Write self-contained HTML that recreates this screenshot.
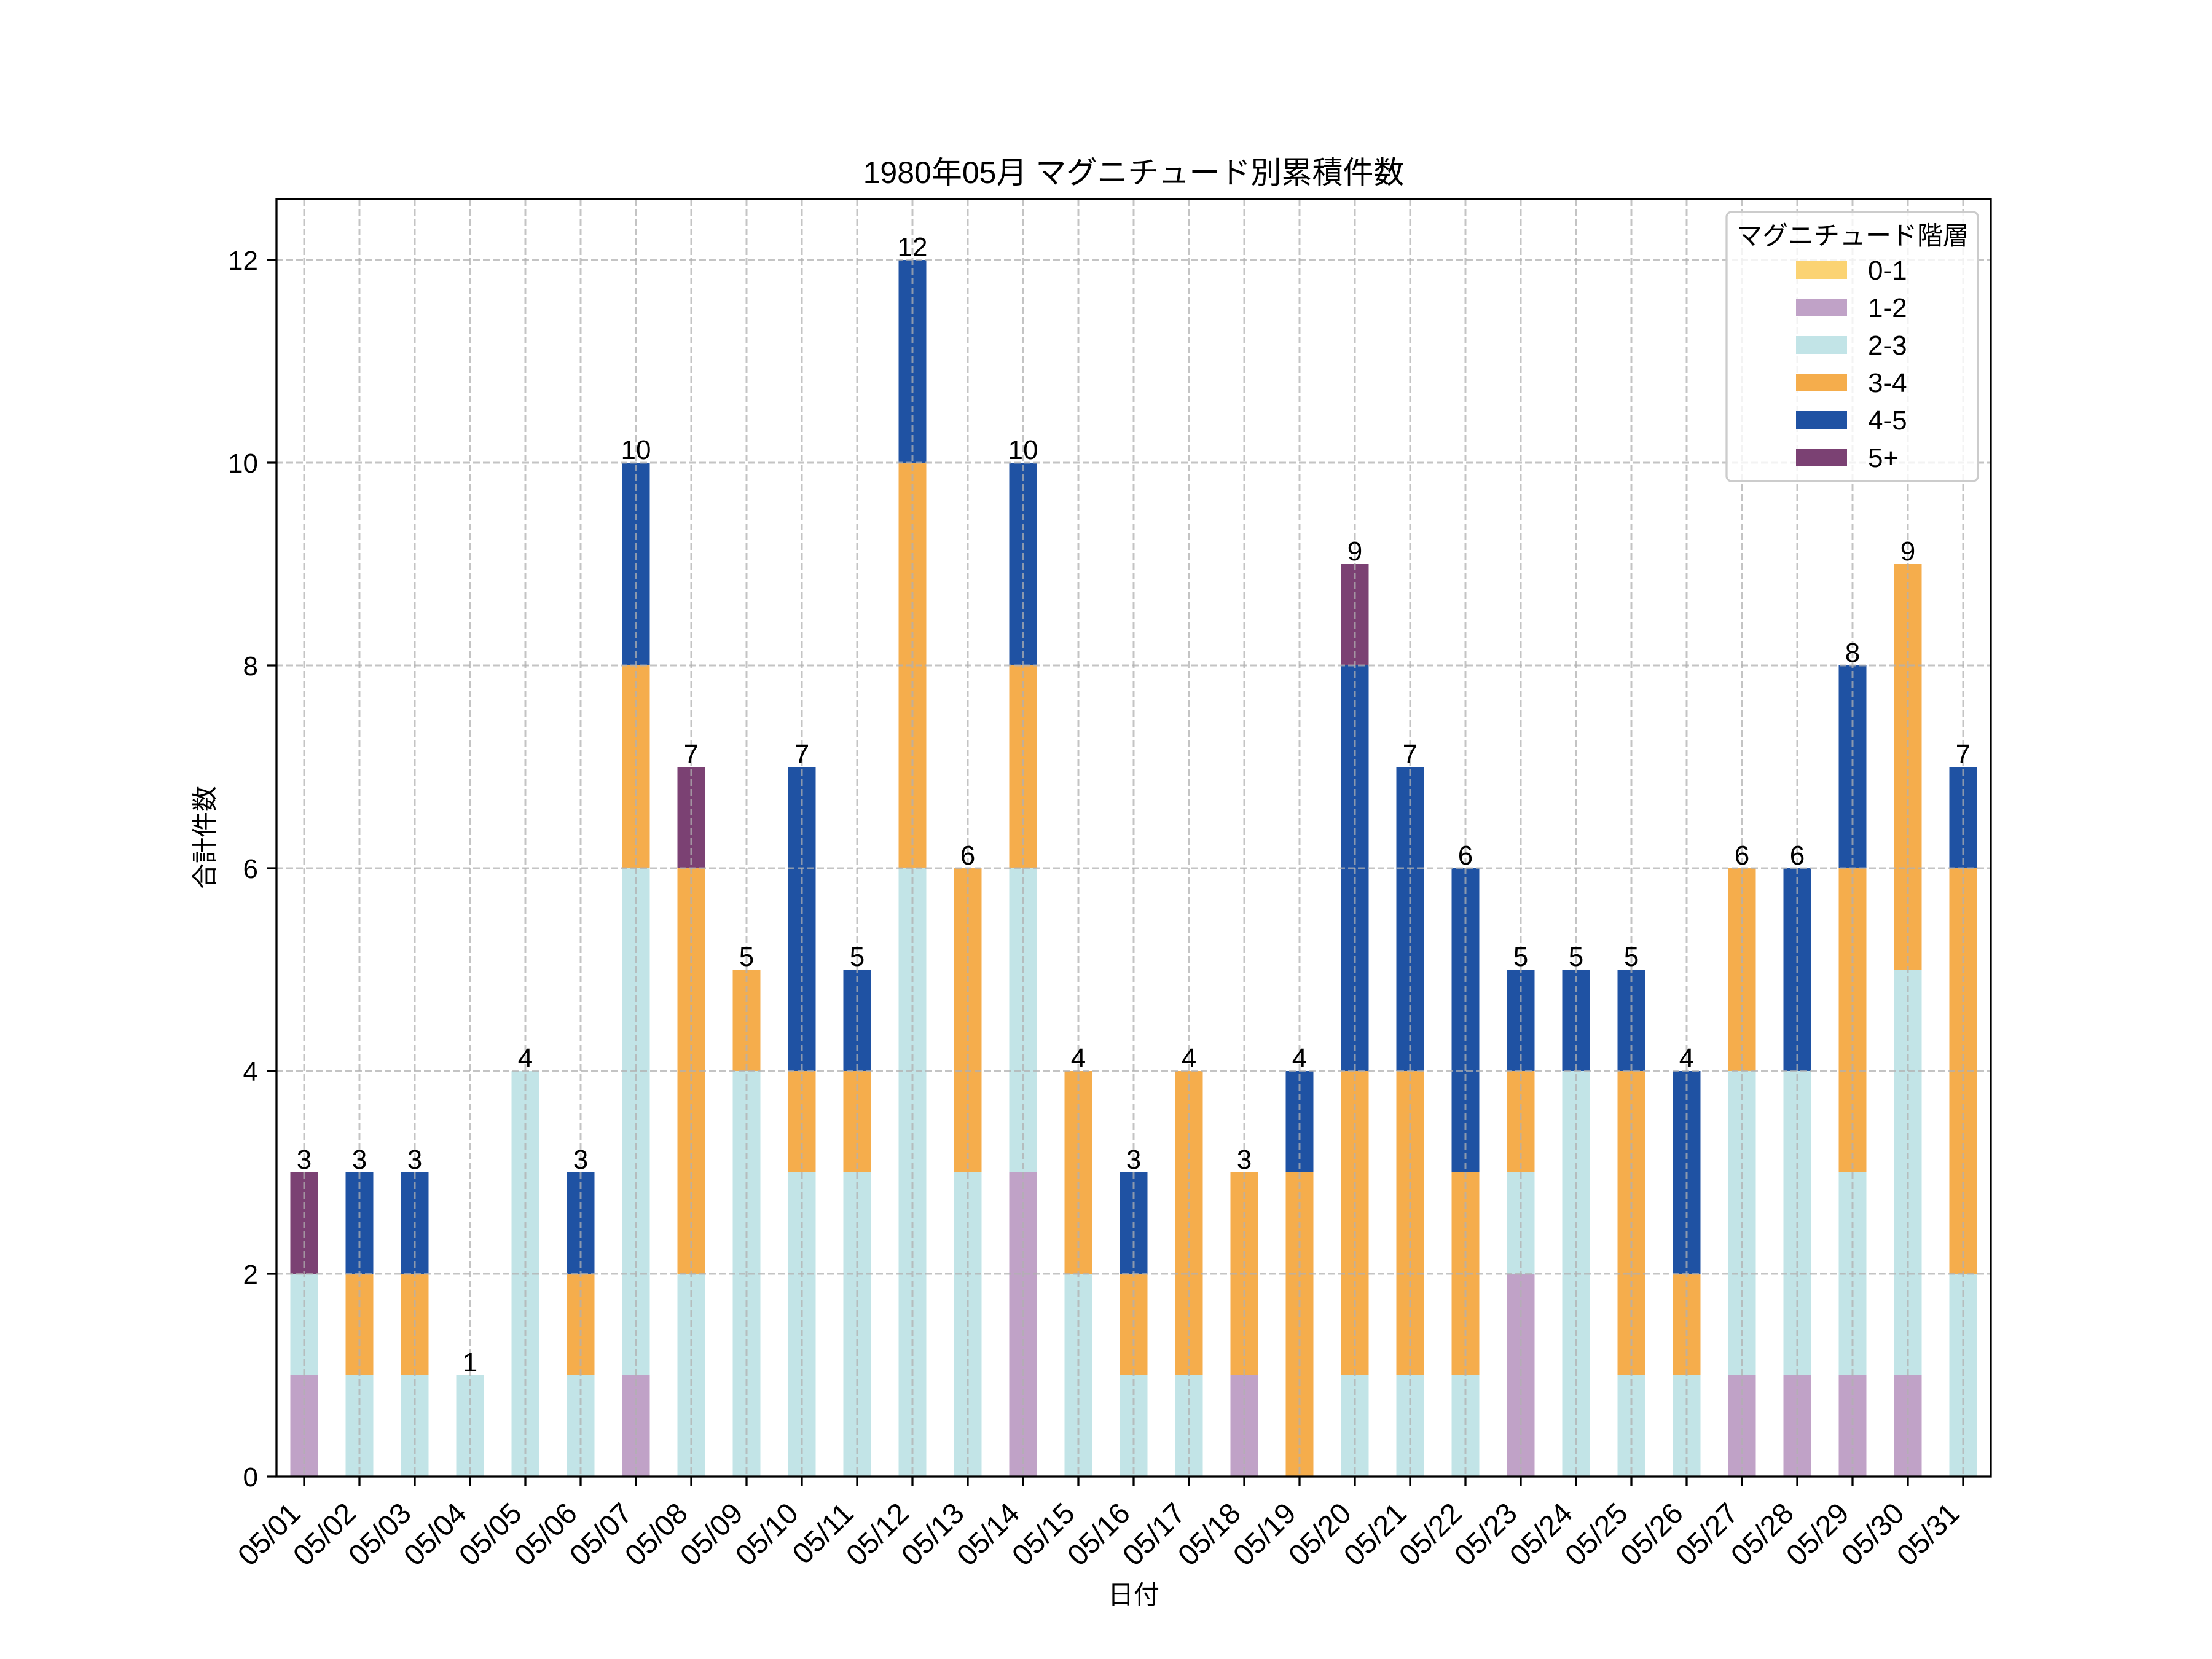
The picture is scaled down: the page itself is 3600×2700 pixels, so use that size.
<!DOCTYPE html>
<html><head><meta charset="utf-8"><style>body{margin:0;background:#fff}svg{display:block}</style></head><body>
<svg xmlns="http://www.w3.org/2000/svg" width="3600" height="2700" viewBox="0 0 3600 2700" font-family="Liberation Sans, Noto Sans CJK JP, sans-serif">
<rect width="3600" height="2700" fill="#fff"/>
<g>
<rect x="472.5" y="2238" width="45" height="165" fill="#C0A2C7"/><rect x="472.5" y="2073" width="45" height="165" fill="#C2E4E7"/><rect x="472.5" y="1908" width="45" height="165" fill="#7B4173"/>
<rect x="562.5" y="2238" width="45" height="165" fill="#C2E4E7"/><rect x="562.5" y="2073" width="45" height="165" fill="#F5AD4C"/><rect x="562.5" y="1908" width="45" height="165" fill="#1F52A3"/>
<rect x="652.5" y="2238" width="45" height="165" fill="#C2E4E7"/><rect x="652.5" y="2073" width="45" height="165" fill="#F5AD4C"/><rect x="652.5" y="1908" width="45" height="165" fill="#1F52A3"/>
<rect x="742.5" y="2238" width="45" height="165" fill="#C2E4E7"/>
<rect x="832.5" y="1743" width="45" height="660" fill="#C2E4E7"/>
<rect x="922.5" y="2238" width="45" height="165" fill="#C2E4E7"/><rect x="922.5" y="2073" width="45" height="165" fill="#F5AD4C"/><rect x="922.5" y="1908" width="45" height="165" fill="#1F52A3"/>
<rect x="1012.5" y="2238" width="45" height="165" fill="#C0A2C7"/><rect x="1012.5" y="1413" width="45" height="825" fill="#C2E4E7"/><rect x="1012.5" y="1083" width="45" height="330" fill="#F5AD4C"/><rect x="1012.5" y="753" width="45" height="330" fill="#1F52A3"/>
<rect x="1102.5" y="2073" width="45" height="330" fill="#C2E4E7"/><rect x="1102.5" y="1413" width="45" height="660" fill="#F5AD4C"/><rect x="1102.5" y="1248" width="45" height="165" fill="#7B4173"/>
<rect x="1192.5" y="1743" width="45" height="660" fill="#C2E4E7"/><rect x="1192.5" y="1578" width="45" height="165" fill="#F5AD4C"/>
<rect x="1282.5" y="1908" width="45" height="495" fill="#C2E4E7"/><rect x="1282.5" y="1743" width="45" height="165" fill="#F5AD4C"/><rect x="1282.5" y="1248" width="45" height="495" fill="#1F52A3"/>
<rect x="1372.5" y="1908" width="45" height="495" fill="#C2E4E7"/><rect x="1372.5" y="1743" width="45" height="165" fill="#F5AD4C"/><rect x="1372.5" y="1578" width="45" height="165" fill="#1F52A3"/>
<rect x="1462.5" y="1413" width="45" height="990" fill="#C2E4E7"/><rect x="1462.5" y="753" width="45" height="660" fill="#F5AD4C"/><rect x="1462.5" y="423" width="45" height="330" fill="#1F52A3"/>
<rect x="1552.5" y="1908" width="45" height="495" fill="#C2E4E7"/><rect x="1552.5" y="1413" width="45" height="495" fill="#F5AD4C"/>
<rect x="1642.5" y="1908" width="45" height="495" fill="#C0A2C7"/><rect x="1642.5" y="1413" width="45" height="495" fill="#C2E4E7"/><rect x="1642.5" y="1083" width="45" height="330" fill="#F5AD4C"/><rect x="1642.5" y="753" width="45" height="330" fill="#1F52A3"/>
<rect x="1732.5" y="2073" width="45" height="330" fill="#C2E4E7"/><rect x="1732.5" y="1743" width="45" height="330" fill="#F5AD4C"/>
<rect x="1822.5" y="2238" width="45" height="165" fill="#C2E4E7"/><rect x="1822.5" y="2073" width="45" height="165" fill="#F5AD4C"/><rect x="1822.5" y="1908" width="45" height="165" fill="#1F52A3"/>
<rect x="1912.5" y="2238" width="45" height="165" fill="#C2E4E7"/><rect x="1912.5" y="1743" width="45" height="495" fill="#F5AD4C"/>
<rect x="2002.5" y="2238" width="45" height="165" fill="#C0A2C7"/><rect x="2002.5" y="1908" width="45" height="330" fill="#F5AD4C"/>
<rect x="2092.5" y="1908" width="45" height="495" fill="#F5AD4C"/><rect x="2092.5" y="1743" width="45" height="165" fill="#1F52A3"/>
<rect x="2182.5" y="2238" width="45" height="165" fill="#C2E4E7"/><rect x="2182.5" y="1743" width="45" height="495" fill="#F5AD4C"/><rect x="2182.5" y="1083" width="45" height="660" fill="#1F52A3"/><rect x="2182.5" y="918" width="45" height="165" fill="#7B4173"/>
<rect x="2272.5" y="2238" width="45" height="165" fill="#C2E4E7"/><rect x="2272.5" y="1743" width="45" height="495" fill="#F5AD4C"/><rect x="2272.5" y="1248" width="45" height="495" fill="#1F52A3"/>
<rect x="2362.5" y="2238" width="45" height="165" fill="#C2E4E7"/><rect x="2362.5" y="1908" width="45" height="330" fill="#F5AD4C"/><rect x="2362.5" y="1413" width="45" height="495" fill="#1F52A3"/>
<rect x="2452.5" y="2073" width="45" height="330" fill="#C0A2C7"/><rect x="2452.5" y="1908" width="45" height="165" fill="#C2E4E7"/><rect x="2452.5" y="1743" width="45" height="165" fill="#F5AD4C"/><rect x="2452.5" y="1578" width="45" height="165" fill="#1F52A3"/>
<rect x="2542.5" y="1743" width="45" height="660" fill="#C2E4E7"/><rect x="2542.5" y="1578" width="45" height="165" fill="#1F52A3"/>
<rect x="2632.5" y="2238" width="45" height="165" fill="#C2E4E7"/><rect x="2632.5" y="1743" width="45" height="495" fill="#F5AD4C"/><rect x="2632.5" y="1578" width="45" height="165" fill="#1F52A3"/>
<rect x="2722.5" y="2238" width="45" height="165" fill="#C2E4E7"/><rect x="2722.5" y="2073" width="45" height="165" fill="#F5AD4C"/><rect x="2722.5" y="1743" width="45" height="330" fill="#1F52A3"/>
<rect x="2812.5" y="2238" width="45" height="165" fill="#C0A2C7"/><rect x="2812.5" y="1743" width="45" height="495" fill="#C2E4E7"/><rect x="2812.5" y="1413" width="45" height="330" fill="#F5AD4C"/>
<rect x="2902.5" y="2238" width="45" height="165" fill="#C0A2C7"/><rect x="2902.5" y="1743" width="45" height="495" fill="#C2E4E7"/><rect x="2902.5" y="1413" width="45" height="330" fill="#1F52A3"/>
<rect x="2992.5" y="2238" width="45" height="165" fill="#C0A2C7"/><rect x="2992.5" y="1908" width="45" height="330" fill="#C2E4E7"/><rect x="2992.5" y="1413" width="45" height="495" fill="#F5AD4C"/><rect x="2992.5" y="1083" width="45" height="330" fill="#1F52A3"/>
<rect x="3082.5" y="2238" width="45" height="165" fill="#C0A2C7"/><rect x="3082.5" y="1578" width="45" height="660" fill="#C2E4E7"/><rect x="3082.5" y="918" width="45" height="660" fill="#F5AD4C"/>
<rect x="3172.5" y="2073" width="45" height="330" fill="#C2E4E7"/><rect x="3172.5" y="1413" width="45" height="660" fill="#F5AD4C"/><rect x="3172.5" y="1248" width="45" height="165" fill="#1F52A3"/>
</g>
<g stroke="#b0b0b0" stroke-opacity="0.75" stroke-width="3" stroke-dasharray="11 5" fill="none">
<path d="M495 324V2403M585 324V2403M675 324V2403M765 324V2403M855 324V2403M945 324V2403M1035 324V2403M1125 324V2403M1215 324V2403M1305 324V2403M1395 324V2403M1485 324V2403M1575 324V2403M1665 324V2403M1755 324V2403M1845 324V2403M1935 324V2403M2025 324V2403M2115 324V2403M2205 324V2403M2295 324V2403M2385 324V2403M2475 324V2403M2565 324V2403M2655 324V2403M2745 324V2403M2835 324V2403M2925 324V2403M3015 324V2403M3105 324V2403M3195 324V2403"/>
<path d="M450 2073H3240M450 1743H3240M450 1413H3240M450 1083H3240M450 753H3240M450 423H3240"/>
</g>
<g font-size="44" text-anchor="middle" fill="#000">
<text x="495" y="1902">3</text><text x="585" y="1902">3</text><text x="675" y="1902">3</text><text x="765" y="2232">1</text><text x="855" y="1737">4</text><text x="945" y="1902">3</text><text x="1035" y="747">10</text><text x="1125" y="1242">7</text><text x="1215" y="1572">5</text><text x="1305" y="1242">7</text><text x="1395" y="1572">5</text><text x="1485" y="417">12</text><text x="1575" y="1407">6</text><text x="1665" y="747">10</text><text x="1755" y="1737">4</text><text x="1845" y="1902">3</text><text x="1935" y="1737">4</text><text x="2025" y="1902">3</text><text x="2115" y="1737">4</text><text x="2205" y="912">9</text><text x="2295" y="1242">7</text><text x="2385" y="1407">6</text><text x="2475" y="1572">5</text><text x="2565" y="1572">5</text><text x="2655" y="1572">5</text><text x="2745" y="1737">4</text><text x="2835" y="1407">6</text><text x="2925" y="1407">6</text><text x="3015" y="1077">8</text><text x="3105" y="912">9</text><text x="3195" y="1242">7</text>
</g>
<rect x="450" y="324" width="2790" height="2079" fill="none" stroke="#000" stroke-width="3.3"/>
<g stroke="#000" stroke-width="3.3">
<path d="M495 2403v15M585 2403v15M675 2403v15M765 2403v15M855 2403v15M945 2403v15M1035 2403v15M1125 2403v15M1215 2403v15M1305 2403v15M1395 2403v15M1485 2403v15M1575 2403v15M1665 2403v15M1755 2403v15M1845 2403v15M1935 2403v15M2025 2403v15M2115 2403v15M2205 2403v15M2295 2403v15M2385 2403v15M2475 2403v15M2565 2403v15M2655 2403v15M2745 2403v15M2835 2403v15M2925 2403v15M3015 2403v15M3105 2403v15M3195 2403v15"/>
<path d="M450 2403h-15M450 2073h-15M450 1743h-15M450 1413h-15M450 1083h-15M450 753h-15M450 423h-15"/>
</g>
<g font-size="44" text-anchor="end" fill="#000">
<text x="420" y="2419">0</text><text x="420" y="2089">2</text><text x="420" y="1759">4</text><text x="420" y="1429">6</text><text x="420" y="1099">8</text><text x="420" y="769">10</text><text x="420" y="439">12</text>
</g>
<g font-size="48" text-anchor="end" fill="#000">
<text transform="translate(492,2466) rotate(-45)">05/01</text>
<text transform="translate(582,2466) rotate(-45)">05/02</text>
<text transform="translate(672,2466) rotate(-45)">05/03</text>
<text transform="translate(762,2466) rotate(-45)">05/04</text>
<text transform="translate(852,2466) rotate(-45)">05/05</text>
<text transform="translate(942,2466) rotate(-45)">05/06</text>
<text transform="translate(1032,2466) rotate(-45)">05/07</text>
<text transform="translate(1122,2466) rotate(-45)">05/08</text>
<text transform="translate(1212,2466) rotate(-45)">05/09</text>
<text transform="translate(1302,2466) rotate(-45)">05/10</text>
<text transform="translate(1392,2466) rotate(-45)">05/11</text>
<text transform="translate(1482,2466) rotate(-45)">05/12</text>
<text transform="translate(1572,2466) rotate(-45)">05/13</text>
<text transform="translate(1662,2466) rotate(-45)">05/14</text>
<text transform="translate(1752,2466) rotate(-45)">05/15</text>
<text transform="translate(1842,2466) rotate(-45)">05/16</text>
<text transform="translate(1932,2466) rotate(-45)">05/17</text>
<text transform="translate(2022,2466) rotate(-45)">05/18</text>
<text transform="translate(2112,2466) rotate(-45)">05/19</text>
<text transform="translate(2202,2466) rotate(-45)">05/20</text>
<text transform="translate(2292,2466) rotate(-45)">05/21</text>
<text transform="translate(2382,2466) rotate(-45)">05/22</text>
<text transform="translate(2472,2466) rotate(-45)">05/23</text>
<text transform="translate(2562,2466) rotate(-45)">05/24</text>
<text transform="translate(2652,2466) rotate(-45)">05/25</text>
<text transform="translate(2742,2466) rotate(-45)">05/26</text>
<text transform="translate(2832,2466) rotate(-45)">05/27</text>
<text transform="translate(2922,2466) rotate(-45)">05/28</text>
<text transform="translate(3012,2466) rotate(-45)">05/29</text>
<text transform="translate(3102,2466) rotate(-45)">05/30</text>
<text transform="translate(3192,2466) rotate(-45)">05/31</text>
</g>
<text x="1845" y="298" font-size="50" text-anchor="middle">1980年05月 マグニチュード別累積件数</text>
<text x="1845" y="2610" font-size="42" text-anchor="middle">日付</text>
<text transform="translate(348,1363) rotate(-90)" font-size="42" text-anchor="middle">合計件数</text>
<rect x="2810" y="345" width="409" height="438" rx="8" fill="#fff" fill-opacity="0.8" stroke="#cccccc" stroke-width="3.3"/>
<text x="3015" y="398" font-size="42" text-anchor="middle">マグニチュード階層</text>
<g>
<rect x="2923" y="425" width="83" height="29" fill="#FBD373"/>
<rect x="2923" y="486" width="83" height="29" fill="#C0A2C7"/>
<rect x="2923" y="547" width="83" height="29" fill="#C2E4E7"/>
<rect x="2923" y="608" width="83" height="29" fill="#F5AD4C"/>
<rect x="2923" y="669" width="83" height="29" fill="#1F52A3"/>
<rect x="2923" y="730" width="83" height="29" fill="#7B4173"/>
</g>
<g font-size="44" fill="#000">
<text x="3040" y="455">0-1</text><text x="3040" y="516">1-2</text><text x="3040" y="577">2-3</text><text x="3040" y="638">3-4</text><text x="3040" y="699">4-5</text><text x="3040" y="760">5+</text>
</g>
</svg>
</body></html>
